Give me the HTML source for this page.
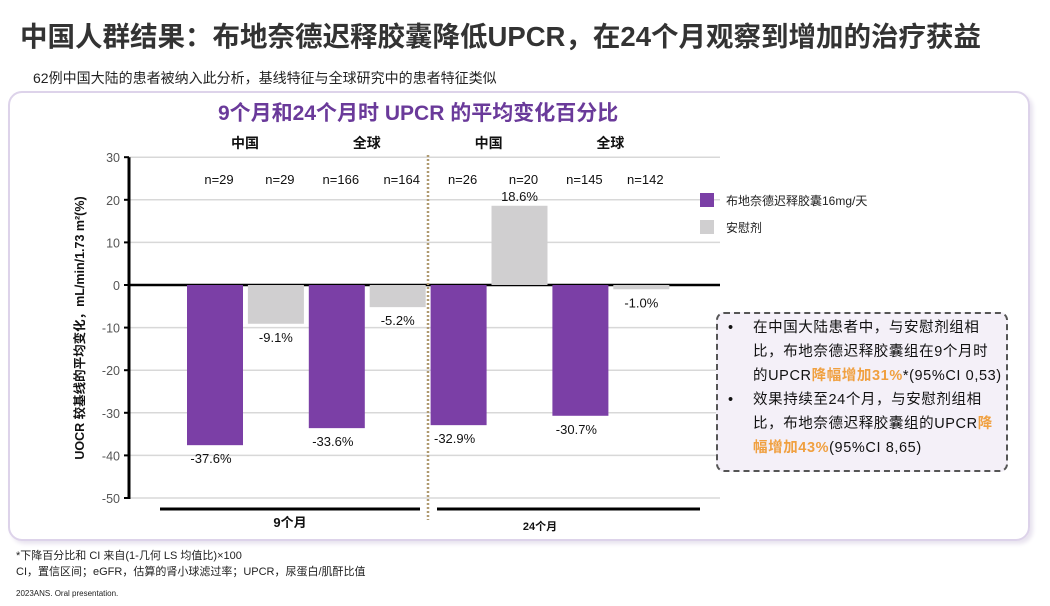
<!DOCTYPE html>
<html><head><meta charset="utf-8"><style>
body{margin:0;width:1050px;height:606px;background:#fff;overflow:hidden;font-family:"Liberation Sans","Noto Sans CJK SC",sans-serif;position:relative}
.a{position:absolute;white-space:nowrap}
</style></head><body>
<div class="a" style="left:20px;top:14px;font-size:27.5px;font-weight:bold;color:#333">中国人群结果：布地奈德迟释胶囊降低UPCR，在24个月观察到增加的治疗获益</div>
<div class="a" style="left:33px;top:68px;font-size:14px;color:#222">62例中国大陆的患者被纳入此分析，基线特征与全球研究中的患者特征类似</div>
<div class="a" style="left:8px;top:91px;width:1018px;height:446px;border:2px solid #ddd3ea;border-radius:14px;box-shadow:3px 3px 4px #e8e3ef"></div>
<div class="a" style="left:218px;top:97px;font-size:21px;font-weight:bold;color:#6a3a9a">9个月和24个月时 UPCR 的平均变化百分比</div>
<svg class="a" style="left:0;top:0" width="1050" height="606">
<g id="g"></g>
</svg>
<div class="a" style="left:716px;top:312px;width:288px;height:156px;border:2px dashed #555;border-radius:8px;background:#f4f0f8;font-size:14.5px;line-height:24px;color:#111">
<div style="position:absolute;left:10px;top:2px">•</div>
<div style="position:absolute;left:35px;top:2px;letter-spacing:0.6px">在中国大陆患者中，与安慰剂组相<br>比，布地奈德迟释胶囊组在9个月时<br>的UPCR<b style="color:#f0a040">降幅增加31%</b>*(95%CI 0,53)</div>
<div style="position:absolute;left:10px;top:74px">•</div>
<div style="position:absolute;left:35px;top:74px;letter-spacing:0.6px">效果持续至24个月，与安慰剂组相<br>比，布地奈德迟释胶囊组的UPCR<b style="color:#f0a040">降</b><br><b style="color:#f0a040">幅增加43%</b>(95%CI 8,65)</div>
</div>
<div class="a" style="left:16px;top:547px;font-size:11px;color:#222">*下降百分比和 CI 来自(1-几何 LS 均值比)×100</div>
<div class="a" style="left:16px;top:563px;font-size:11px;color:#222">CI，置信区间；eGFR，估算的肾小球滤过率；UPCR，尿蛋白/肌酐比值</div>
<div class="a" style="left:16px;top:589px;font-size:8px;color:#222">2023ANS. Oral presentation.</div>
<script>
const ticks=[30,20,10,0,-10,-20,-30,-40,-50];
const values=[-37.6,-9.1,-33.6,-5.2,-32.9,18.6,-30.7,-1.0];
const labels=["-37.6%","-9.1%","-33.6%","-5.2%","-32.9%","18.6%","-30.7%","-1.0%"];
const nLabels=["n=29","n=29","n=166","n=164","n=26","n=20","n=145","n=142"];
const groupLabels=["中国","全球","中国","全球"];
const periodLabels=["9个月","24个月"];
const legendLabels=["布地奈德迟释胶囊16mg/天","安慰剂"];
const NS="http://www.w3.org/2000/svg",g=document.getElementById('g');
const y=v=>285-v*4.26, x=i=>187+i*60.9, W=56;
function el(t,a,txt){const e=document.createElementNS(NS,t);for(const k in a)e.setAttribute(k,a[k]);if(txt!==undefined)e.textContent=txt;g.appendChild(e);return e;}
const cols=["#7b3fa6","#d0cfd0"];
ticks.forEach(t=>{
 const l=el('line',{x1:129,x2:720,y1:y(t),y2:y(t),stroke:t===0?'#000':'#d8d8d8','stroke-width':t===0?2.5:1.5});
 
 
 el('line',{x1:124,x2:129,y1:y(t),y2:y(t),stroke:'#000','stroke-width':2});
 const tx=el('text',{x:120,y:y(t)+5,'text-anchor':'end','font-size':12.5,fill:'#555'},t);
 
 
});
el('line',{x1:129,x2:129,y1:y(30),y2:y(-50)+1,stroke:'#000','stroke-width':3});
values.forEach((v,i)=>{
 const top=Math.min(y(v),y(0)),h=Math.abs(y(v)-y(0));
 const r=el('rect',{x:x(i),y:top,width:W,height:h,fill:cols[i%2]});
 
 
 const ly=v>=0?y(v)-5:y(v)+18;
 const t=el('text',{x:x(i)+(v>=0?W/2:(i%2?W/2:W/2-4)),y:ly,'text-anchor':'middle','font-size':13,fill:'#111'},labels[i]);
 
 
 const n=el('text',{x:x(i)+W/2+4,y:184,'text-anchor':'middle','font-size':13,fill:'#111'},nLabels[i]);
 
 
});
groupLabels.forEach((s,k)=>{
 const t=el('text',{x:x(2*k)+58,y:148,'text-anchor':'middle','font-size':14,'font-weight':'bold',fill:'#111'},s);
 
 
});
el('line',{x1:428,x2:428,y1:155,y2:520,stroke:'#b09a70','stroke-width':2.5,'stroke-dasharray':'2,2'});
el('line',{x1:160,x2:420,y1:509,y2:509,stroke:'#000','stroke-width':3});
el('line',{x1:437,x2:700,y1:509,y2:509,stroke:'#000','stroke-width':3});
[[290,527],[540,530]].forEach((p,k)=>{
 const t=el('text',{x:p[0],y:p[1],'text-anchor':'middle','font-size':k?11:13,'font-weight':'bold',fill:'#111'},periodLabels[k]);
 
 
});
legendLabels.forEach((s,k)=>{
 const r=el('rect',{x:700,y:193+k*27,width:14,height:14,fill:cols[k]});
 
 
 const t=el('text',{x:726,y:205+k*27,'font-size':12,fill:'#222'},s);
 
 
});
const yt=el('text',{transform:'translate(84,328) rotate(-90)','text-anchor':'middle','font-size':12.5,'font-weight':'bold',fill:'#111'},'UOCR 较基线的平均变化，mL/min/1.73 m²(%)');


</script>
</body></html>
